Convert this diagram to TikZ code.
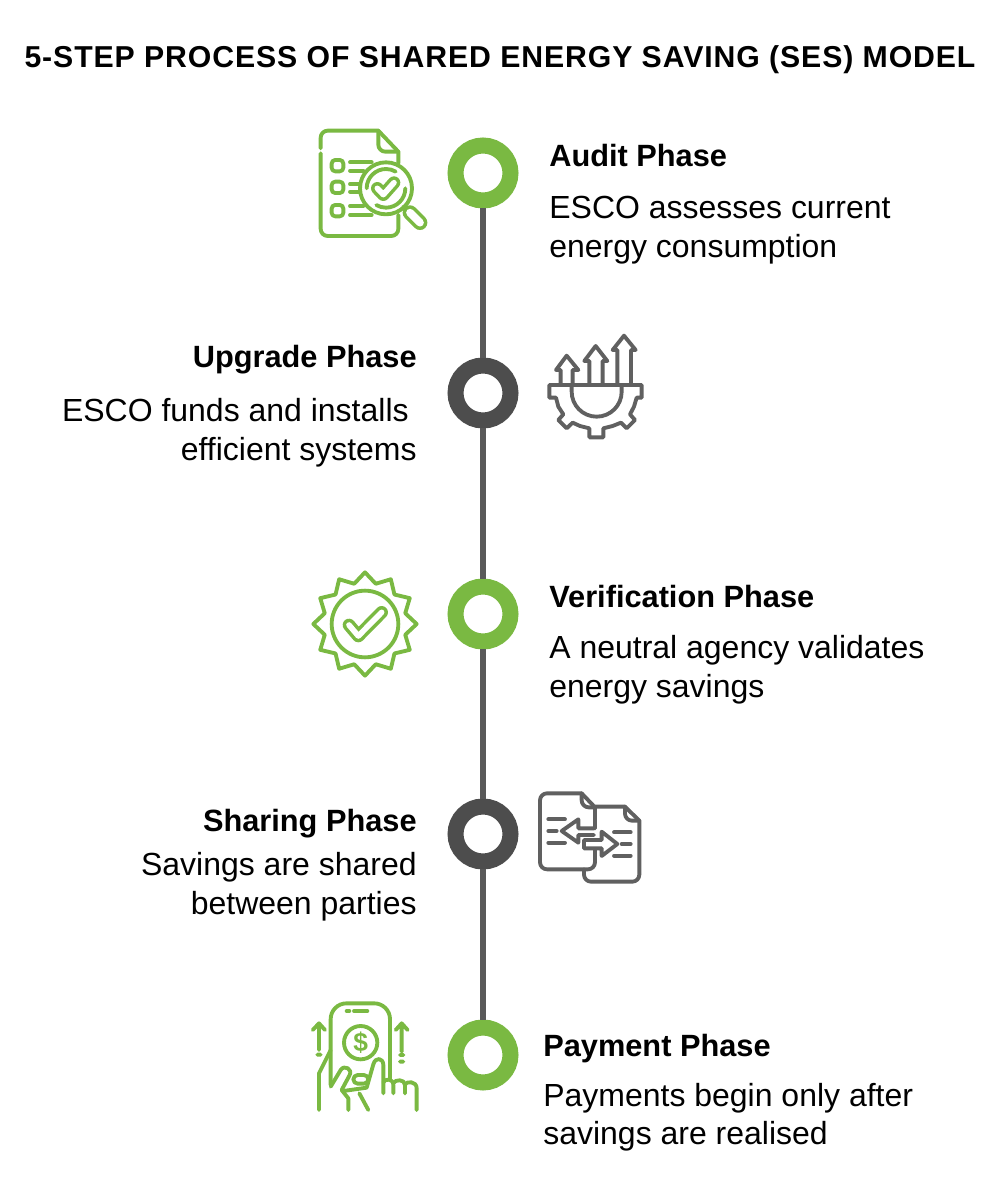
\documentclass[tikz,border=0pt]{standalone}
\usepackage{fontspec}
\setmainfont{Liberation Sans}
\definecolor{leaf}{HTML}{7AB942}
\definecolor{slate}{HTML}{4D4D4D}
\definecolor{spine}{HTML}{595959}
\definecolor{iconGrey}{HTML}{606060}
\tikzset{
ring/.style={circle,fill=white,minimum size=1.1cm,inner sep=0pt,line width=9.1pt},
greenRing/.style={ring,draw=leaf},
darkRing/.style={ring,draw=slate},
spineLine/.style={spine,line width=3.8pt},
headL/.style={anchor=base west,inner sep=0pt,font=\fontsize{17.5}{21}\selectfont\bfseries},
headR/.style={anchor=base east,inner sep=0pt,font=\fontsize{17.5}{21}\selectfont\bfseries},
bodyL/.style={anchor=base west,inner sep=0pt,font=\fontsize{18.2}{21}\selectfont},
bodyR/.style={anchor=base east,inner sep=0pt,font=\fontsize{18.2}{21}\selectfont},
icon/.style={line width=2.2pt,line join=round,line cap=round},
pill/.style={line width=2pt,double=white,double distance=3.2pt,line cap=round,line join=round},
}
\begin{document}
\begin{tikzpicture}[x=0.02cm,y=-0.02cm]
\useasboundingbox (0,0) rectangle (1000,1192);
\node[anchor=base,inner sep=0pt,font=\fontsize{17.2}{20}\selectfont\bfseries\addfontfeature{LetterSpace=3}] (title) at (500,68) {5-STEP PROCESS OF SHARED ENERGY SAVING (SES) MODEL};
% rings and spine
\node[greenRing] (ringA) at (483,173) {};
\node[darkRing] (ringB) at (483,393) {};
\node[greenRing] (ringC) at (483,614) {};
\node[darkRing] (ringD) at (483,834) {};
\node[greenRing] (ringE) at (483,1055) {};
\foreach \a/\b in {ringA/ringB,ringB/ringC,ringC/ringD,ringD/ringE}
\draw[spineLine] (\a)--(\b);
% texts
\node[headL] (auditHead) at (549,167) {Audit Phase};
\node[bodyL] (auditOne) at (549,219) {ESCO assesses current};
\node[bodyL] (auditTwo) at (549,258) {energy consumption};
\node[headR] (upgradeHead) at (417,368) {Upgrade Phase};
\node[bodyR] (upgradeOne) at (409,421) {ESCO funds and installs};
\node[bodyR] (upgradeTwo) at (417,460) {efficient systems};
\node[headL] (verifyHead) at (549,607) {Verification Phase};
\node[bodyL] (verifyOne) at (549,658) {A neutral agency validates};
\node[bodyL] (verifyTwo) at (549,697) {energy savings};
\node[headR] (shareHead) at (417,831) {Sharing Phase};
\node[bodyR] (shareOne) at (417,875) {Savings are shared};
\node[bodyR] (shareTwo) at (417,914) {between parties};
\node[headL] (payHead) at (543,1056) {Payment Phase};
\node[bodyL] (payOne) at (543,1106) {Payments begin only after};
\node[bodyL] (payTwo) at (543,1144) {savings are realised};
% audit icon
\begin{scope}[shift={(300,120)},x=0.00667cm,y=-0.00667cm,leaf,icon]
\draw[rounded corners=4pt] (62,85)--(62,32)[sharp corners]--(235,32)--(295,95)--(295,130);
\draw[rounded corners=4pt] (62,100)--(62,348)--(295,348)--(295,285);
\draw[rounded corners=4pt] (235,32)--(235,95)--(295,95);
\foreach \y in {120,185,255}
\draw[rounded corners=2pt] (95,\y) rectangle (130,\y+34);
\foreach \y/\xa/\xb in {127/150/215,152/150/190,192/150/175,215/150/175,258/150/190,285/150/215}
\draw (\xa,\y)--(\xb,\y);
\fill[white] (258,205) circle (78);
\draw (258,205) circle (78);
\draw (200,205) arc[start angle=180,end angle=300,radius=58];
\draw (316,205) arc[start angle=0,end angle=120,radius=58];
\draw[pill] (232,205)--(250,224)--(282,188);
\draw (310,260)--(325,275);
\draw[pill,double distance=4.4pt] (330,278)--(360,308);
\end{scope}
% upgrade icon
\begin{scope}[shift={(430,325)},x=0.00667cm,y=-0.00667cm,iconGrey,icon]
\draw (392,180)--(392,135)--(378,135)--(410,92)--(445,135)--(428,135)--(428,180);
\draw (478,180)--(478,108)--(463,108)--(497,63)--(532,108)--(518,108)--(518,180);
\draw (562,180)--(562,75)--(548,75)--(582,32)--(617,75)--(603,75)--(603,180);
\draw (358,180)--(635,180)--(635,218)--(620,218)--(612,245)--(600,268)--(615,285)--(590,310)--(573,293)--(548,303)--(520,310)--(520,337)--(478,337)--(478,310)--(450,303)--(428,293)--(410,310)--(385,285)--(400,268)--(385,245)--(378,218)--(358,218)--cycle;
\draw (425,180)--(425,200) arc[start angle=180,end angle=0,radius=75]--(575,180);
\end{scope}
% verification icon
\begin{scope}[shift={(300,560)},x=0.00667cm,y=-0.00667cm,leaf,icon]
\draw (350,192) \foreach \t in {15,30,...,345}{
  -- ({195+(mod(\t,30)==0 ? 155 : 125)*cos(\t)},{192+(mod(\t,30)==0 ? 155 : 125)*sin(\t)})}--cycle;
\draw (195,192) circle (100);
\draw[pill] (147,195)--(175,228)--(245,157);
\end{scope}
% sharing icon
\begin{scope}[shift={(430,780)},x=0.00667cm,y=-0.00667cm,iconGrey,icon]
\draw (495,145)--(495,82)--(455,40)[rounded corners=4pt]--(330,40)--(330,268)--(495,268)--(495,210);
\draw[rounded corners=4pt] (455,40)--(455,82)--(495,82);
\draw (495,80)--(585,80)--(628,122)[rounded corners=4pt]--(628,305)--(462,305)--(462,268);
\draw[rounded corners=4pt] (585,80)--(585,122)--(628,122);
\foreach \y/\xa/\xb in {118/355/405,153/355/380,188/355/405,157/552/602,192/575/602,227/552/602}
\draw (\xa,\y)--(\xb,\y);
\draw (492,145)--(445,145)--(445,118)--(395,153)--(445,188)--(445,165)--(492,165);
\draw (462,180)--(515,180)--(515,155)--(562,192)--(515,228)--(515,205)--(462,205)--cycle;
\end{scope}
% payment icon
\begin{scope}[shift={(300,995)},x=0.00667cm,y=-0.00667cm,leaf,icon]
\draw[rounded corners=9pt] (92,270)--(92,25)--(270,25)--(270,255);
\draw (140,48)--(148,48) (162,48)--(202,48);
\draw (182,143) circle (50);
\node[font=\fontsize{15}{15}\selectfont\bfseries,leaf] (dollar) at (182,143) {\$};
\draw (57,165)--(57,88) (38,105)--(57,85)--(75,105) (52,179)--(62,179);
\draw (305,170)--(305,88) (287,105)--(305,85)--(323,105) (300,180)--(310,180) (300,200)--(310,200);
\draw (57,345)--(57,235)--(92,165);
\draw (92,275)--(122,225) .. controls (132,208) and (160,222) .. (148,242)--(125,285)--(145,310)--(145,345);
\draw[rounded corners=2.5pt] (160,240) rectangle (205,266);
\draw (130,288)--(200,278)--(220,208) .. controls (226,185) and (250,188) .. (250,210)--(250,295);
\draw (250,262) .. controls (255,250) and (280,250) .. (280,270)--(280,295);
\draw (280,265) .. controls (285,252) and (315,252) .. (315,270)--(315,295);
\draw (315,268) .. controls (320,258) and (350,258) .. (350,280)--(350,345);
\draw (178,295)--(205,345);
\end{scope}
\end{tikzpicture}
\end{document}
